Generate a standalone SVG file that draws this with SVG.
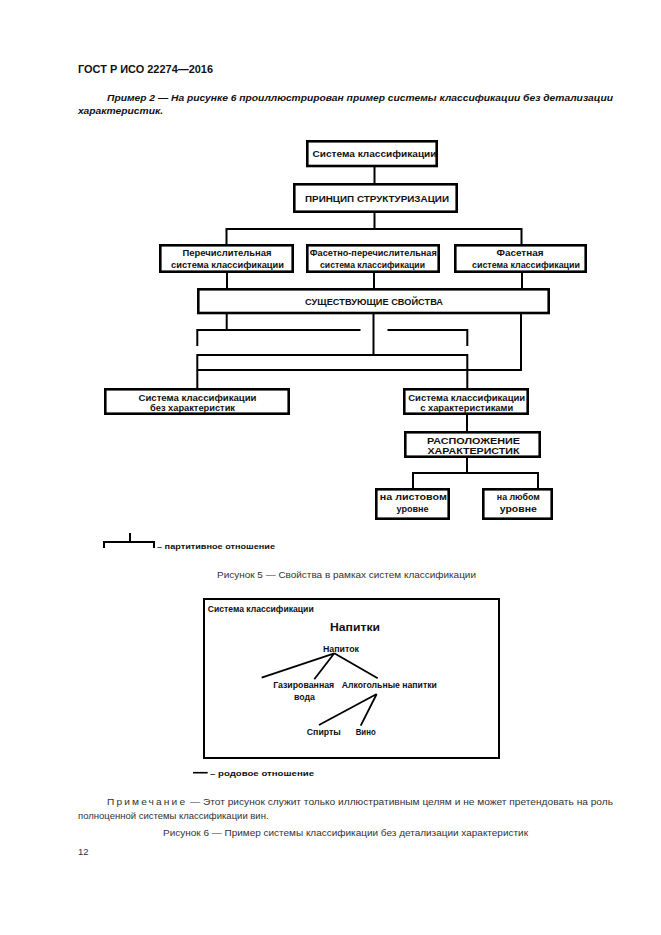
<svg xmlns="http://www.w3.org/2000/svg" width="661" height="935" viewBox="0 0 661 935">
<style>
text{font-family:"Liberation Sans",Arial,sans-serif;fill:#111}
.b{font-weight:bold}
.box{fill:#fff;stroke:#000;stroke-width:2.6}
.t{font-size:9px;font-weight:bold;text-anchor:middle}
.cap{font-size:9.5px;font-weight:bold;text-anchor:middle}
.con{fill:none;stroke:#000;stroke-width:2}
.thin{fill:none;stroke:#000;stroke-width:1.8}
.reg{font-size:9.5px;fill:#333}
.tree{font-size:9px;font-weight:bold;text-anchor:middle}
</style>
<rect width="661" height="935" fill="#fff"/>
<g id="page-text">
<text x="78" y="73" class="b" font-size="10.5" textLength="135" lengthAdjust="spacingAndGlyphs">ГОСТ Р ИСО 22274—2016</text>
<text x="107" y="101" class="b" font-size="9.5" font-style="italic" textLength="506" lengthAdjust="spacingAndGlyphs">Пример 2 — На рисунке 6 проиллюстрирован пример системы классификации без детализации</text>
<text x="78" y="114" class="b" font-size="9.5" font-style="italic" textLength="85" lengthAdjust="spacingAndGlyphs">характеристик.</text>
</g>
<g id="connectors">
<path class="con" d="M374.5 167V183"/>
<path class="con" d="M374.5 213V229"/>
<path class="con" d="M226.5 244V229H521.5V244"/>
<path class="con" d="M227 273V288M374 273V288M522 273V288"/>
<path class="con" d="M226.7 314V330"/>
<path class="con" d="M197.3 346V330H360.5"/>
<path class="con" d="M387.5 330H467.3V346"/>
<path class="con" d="M373.5 314V355"/>
<path class="con" d="M197.3 388V355H467.3V388"/>
<path class="con" d="M521 314V370H197.3"/>
<path class="con" d="M467 415V431"/>
<path class="con" d="M467 458V473"/>
<path class="con" d="M413 488V473H538V488"/>
</g>
<g id="n-system">
<rect class="box" x="307.3" y="141.3" width="129.4" height="24.7"/>
<text class="t" x="374.5" y="157" textLength="124" lengthAdjust="spacingAndGlyphs">Система классификации</text>
</g>
<g id="n-principle">
<rect class="box" x="294.3" y="184.3" width="162.4" height="27.4"/>
<text class="cap" x="377" y="202" textLength="144" lengthAdjust="spacingAndGlyphs">ПРИНЦИП СТРУКТУРИЗАЦИИ</text>
</g>
<g id="n-enum">
<rect class="box" x="160.3" y="245.3" width="132.4" height="26.4"/>
<text class="t" x="227" y="255.5" textLength="89" lengthAdjust="spacingAndGlyphs">Перечислительная</text>
<text class="t" x="227.5" y="267.5" textLength="113" lengthAdjust="spacingAndGlyphs">система классификации</text>
</g>
<g id="n-facet-enum">
<rect class="box" x="307.3" y="245.3" width="131.4" height="26.4"/>
<text class="t" x="373.3" y="255.5" textLength="127" lengthAdjust="spacingAndGlyphs">Фасетно-перечислительная</text>
<text class="t" x="372.5" y="267.5" textLength="105" lengthAdjust="spacingAndGlyphs">система классификации</text>
</g>
<g id="n-facet">
<rect class="box" x="455.3" y="245.3" width="130.4" height="26.4"/>
<text class="t" x="520" y="255.5" textLength="47" lengthAdjust="spacingAndGlyphs">Фасетная</text>
<text class="t" x="526" y="267.5" textLength="108" lengthAdjust="spacingAndGlyphs">система классификации</text>
</g>
<g id="n-props">
<rect class="box" x="198.3" y="289.3" width="350.4" height="23.7"/>
<text class="t" x="374" y="305" textLength="138" lengthAdjust="spacingAndGlyphs">СУЩЕСТВУЮЩИЕ СВОЙСТВА</text>
</g>
<g id="n-without">
<rect class="box" x="105.3" y="389.3" width="183.4" height="24.4"/>
<text class="t" x="197.5" y="400.5" textLength="118" lengthAdjust="spacingAndGlyphs">Система классификации</text>
<text class="t" x="192.5" y="411" textLength="85" lengthAdjust="spacingAndGlyphs">без характеристик</text>
</g>
<g id="n-with">
<rect class="box" x="404.3" y="389.3" width="123.4" height="24.4"/>
<text class="t" x="466.7" y="400.5" textLength="117" lengthAdjust="spacingAndGlyphs">Система классификации</text>
<text class="t" x="466.7" y="411" textLength="93" lengthAdjust="spacingAndGlyphs">с характеристиками</text>
</g>
<g id="n-location">
<rect class="box" x="405.3" y="432.3" width="134.4" height="24.4"/>
<text class="cap" x="473.5" y="444" textLength="93" lengthAdjust="spacingAndGlyphs">РАСПОЛОЖЕНИЕ</text>
<text class="cap" x="473.5" y="454" textLength="92" lengthAdjust="spacingAndGlyphs">ХАРАКТЕРИСТИК</text>
</g>
<g id="n-leaf">
<rect class="box" x="376.3" y="489.3" width="72.4" height="29.4"/>
<text class="t" x="413.3" y="500" textLength="67" lengthAdjust="spacingAndGlyphs">на листовом</text>
<text class="t" x="412.5" y="512" textLength="32" lengthAdjust="spacingAndGlyphs">уровне</text>
</g>
<g id="n-any">
<rect class="box" x="483.3" y="489.3" width="68.4" height="29.4"/>
<text class="t" x="518.3" y="500" textLength="43" lengthAdjust="spacingAndGlyphs">на любом</text>
<text class="t" x="518.3" y="512" textLength="37" lengthAdjust="spacingAndGlyphs">уровне</text>
</g>
<g id="legend-partitive">
<path class="con" d="M130 533V542M104 548V542H154V548"/>
<text x="157" y="548.5" class="b" font-size="8" textLength="118" lengthAdjust="spacingAndGlyphs">– партитивное отношение</text>
</g>
<text x="346.5" y="578" class="reg" text-anchor="middle" textLength="259" lengthAdjust="spacingAndGlyphs">Рисунок 5 — Свойства в рамках систем классификации</text>
<g id="figure6">
<rect x="204" y="599" width="295" height="159" fill="none" stroke="#000" stroke-width="2"/>
<text x="207.7" y="612" class="b" font-size="8.5" textLength="106" lengthAdjust="spacingAndGlyphs">Система классификации</text>
<text x="355" y="631" class="b" font-size="11.5" text-anchor="middle" textLength="50" lengthAdjust="spacingAndGlyphs">Напитки</text>
<g id="n-drink"><text x="341" y="652" class="tree" textLength="36" lengthAdjust="spacingAndGlyphs">Напиток</text></g>
<g id="n-soda"><text x="303.7" y="688" class="tree" textLength="61" lengthAdjust="spacingAndGlyphs">Газированная</text>
<text x="304.5" y="700" class="tree" textLength="21" lengthAdjust="spacingAndGlyphs">вода</text></g>
<g id="n-alco"><text x="389.3" y="688" class="tree" textLength="95" lengthAdjust="spacingAndGlyphs">Алкогольные напитки</text></g>
<g id="n-spirits"><text x="323.8" y="735" class="tree" textLength="34" lengthAdjust="spacingAndGlyphs">Спирты</text></g>
<g id="n-wine"><text x="365.7" y="735" class="tree" textLength="20" lengthAdjust="spacingAndGlyphs">Вино</text></g>
<g id="tree-connectors">
<path class="thin" d="M334.3 653.3L261.7 677.7M334.3 653.3L314.3 679.3M334.3 653.3L377.7 678.3"/>
<path class="thin" d="M376.7 694L319 725M376.7 694L360.7 725.7"/>
</g>
</g>
<g id="legend-generic">
<path d="M193 772.7H207.7" stroke="#000" stroke-width="1.6"/>
<text x="210" y="775.5" class="b" font-size="8" textLength="104" lengthAdjust="spacingAndGlyphs">– родовое отношение</text>
</g>
<g id="note">
<text x="107" y="805" class="reg" textLength="506" lengthAdjust="spacingAndGlyphs"><tspan letter-spacing="2">Примечание</tspan> — Этот рисунок служит только иллюстративным целям и не может претендовать на роль</text>
<text x="78" y="819" class="reg">полноценной системы классификации вин.</text>
<text x="345.5" y="836" class="reg" text-anchor="middle" textLength="365" lengthAdjust="spacingAndGlyphs">Рисунок 6 — Пример системы классификации без детализации характеристик</text>
<text x="78" y="855" class="reg">12</text>
</g>
</svg>
